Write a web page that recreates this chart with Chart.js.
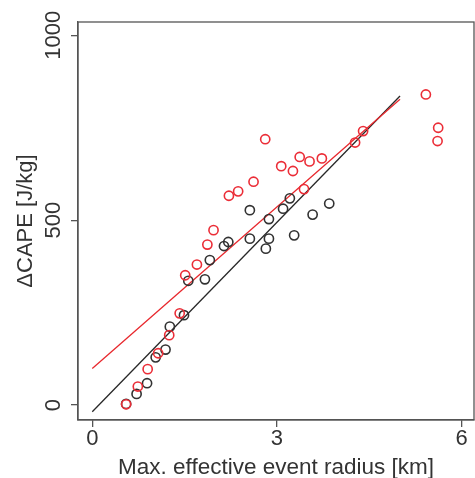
<!DOCTYPE html>
<html>
<head>
<meta charset="utf-8">
<script src="https://cdn.jsdelivr.net/npm/chart.js@4/dist/chart.umd.min.js"></script>
<style>
html,body{margin:0;padding:0;background:#fff;}
#wrap{width:475px;height:478px;position:relative;}
</style>
</head>
<body>
<div id="wrap"><canvas id="c" width="475" height="478"></canvas></div>
<script>
// ---- data ----
const blackX = [0.55,0.72,0.89,1.03,1.19,1.26,1.49,1.56,1.83,1.91,2.14,2.21,2.56,2.56,2.82,2.87,2.87,3.10,3.21,3.28,3.58,3.85];
const blackY = [3,30,59,129,150,212,243,336,340,392,430,441,527,450,423,450,503,531,559,459,515,545];
const redX = [0.55,0.74,0.90,1.07,1.25,1.42,1.51,1.70,1.87,1.97,2.22,2.37,2.62,2.81,3.07,3.26,3.37,3.53,3.73,3.44,4.27,4.40,5.42,5.62,5.61];
const redY = [2,50,97,140,189,248,351,380,434,473,566,578,604,719,646,633,671,659,667,584,710,741,840,750,714];
const blackFitX = [0, 5.0];
const blackFitY = [-18, 836];
const redFitX = [0, 5.0];
const redFitY = [99, 827];
const xTicks = [0, 3, 6];
const yTicks = [0, 500, 1000];
const xTitle = 'Max. effective event radius [km]';
const yTitle = '\u0394CAPE [J/kg]';

const pts = (xs, ys) => xs.map((x, i) => ({x: x, y: ys[i]}));

const FONT = '"Liberation Sans", Arial, Helvetica, sans-serif';
const TXT = '#333';
const AX = '#555';

const boxAndLabels = {
  id: 'boxAndLabels',
  afterDraw(chart) {
    const ctx = chart.ctx;
    const a = chart.chartArea;
    ctx.save();
    ctx.strokeStyle = AX;
    ctx.lineWidth = 1.3;
    ctx.strokeRect(a.left, a.top, a.right - a.left, a.bottom - a.top);
    ctx.fillStyle = TXT;
    ctx.font = '22px ' + FONT;
    // y tick labels (rotated, as in the reference)
    const ys = chart.scales.y;
    ctx.textAlign = 'center';
    ctx.textBaseline = 'middle';
    yTicks.forEach(v => {
      const py = ys.getPixelForValue(v);
      ctx.save();
      ctx.translate(54, py);
      ctx.rotate(-Math.PI / 2);
      ctx.fillText(String(v), 0, 0);
      ctx.restore();
    });
    // x tick labels
    const xs = chart.scales.x;
    ctx.textAlign = 'center';
    ctx.textBaseline = 'alphabetic';
    xTicks.forEach(v => {
      ctx.fillText(String(v), xs.getPixelForValue(v), a.bottom + 25);
    });
    ctx.restore();
  }
};

new Chart(document.getElementById('c'), {
  type: 'scatter',
  data: {
    datasets: [
      {type: 'line', data: pts(blackFitX, blackFitY), borderColor: 'rgb(40,40,40)', borderWidth: 1.3, pointRadius: 0, fill: false, order: 3},
      {type: 'line', data: pts(redFitX, redFitY), borderColor: 'rgb(232,40,45)', borderWidth: 1.3, pointRadius: 0, fill: false, order: 2},
      {data: pts(blackX, blackY), borderColor: 'rgb(50,50,50)', backgroundColor: 'rgba(0,0,0,0)', pointRadius: 4.6, borderWidth: 1.6, order: 1},
      {data: pts(redX, redY), borderColor: 'rgb(235,45,55)', backgroundColor: 'rgba(0,0,0,0)', pointRadius: 4.6, borderWidth: 1.6, order: 0}
    ]
  },
  options: {
    responsive: false,
    animation: false,
    layout: {autoPadding: false, padding: {top: 22, right: 1, left: 0, bottom: 0}},
    plugins: {legend: {display: false}, tooltip: {enabled: false}},
    scales: {
      x: {
        type: 'linear', min: -0.232, max: 6.202,
        afterBuildTicks: s => { s.ticks = xTicks.map(v => ({value: v})); },
        afterFit: s => { s.height = 58; },
        grid: {drawOnChartArea: false, drawTicks: true, tickLength: 7, color: AX, lineWidth: 1.3},
        border: {display: true, color: AX, width: 1.3},
        ticks: {display: false},
        title: {display: true, text: xTitle, color: TXT, font: {family: FONT, size: 22.5, lineHeight: 1}, padding: {top: 0, bottom: -1}}
      },
      y: {
        type: 'linear', min: -40.5, max: 1036,
        afterBuildTicks: s => { s.ticks = yTicks.map(v => ({value: v})); },
        afterFit: s => { s.width = 78; },
        grid: {drawOnChartArea: false, drawTicks: true, tickLength: 7, color: AX, lineWidth: 1.3},
        border: {display: true, color: AX, width: 1.3},
        ticks: {display: false},
        title: {display: true, text: yTitle, color: TXT, font: {family: FONT, size: 22, lineHeight: 1}, padding: {top: 15, bottom: 0}}
      }
    }
  },
  plugins: [boxAndLabels]
});
</script>
</body>
</html>
